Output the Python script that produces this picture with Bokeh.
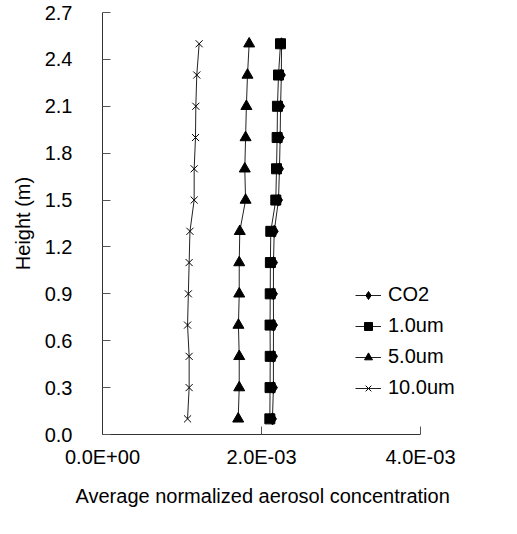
from bokeh.plotting import figure
from bokeh.models import FixedTicker, Range1d, Legend, LegendItem, Title
from bokeh.embed import file_html
from bokeh.resources import INLINE

heights = [0.1, 0.3, 0.5, 0.7, 0.9, 1.1, 1.3, 1.5, 1.7, 1.9, 2.1, 2.3, 2.5]
co2 = [0.002138, 0.00215, 0.00215, 0.002151, 0.00215, 0.002151, 0.00216,
       0.002214, 0.002226, 0.002235, 0.00224, 0.00225, 0.002252]
um1 = [0.002105, 0.002108, 0.00211, 0.002108, 0.00211, 0.002112, 0.002117,
       0.00218, 0.002189, 0.002197, 0.002201, 0.002214, 0.002239]
um5 = [0.001707, 0.00172, 0.00172, 0.00171, 0.00172, 0.00172, 0.001727,
       0.0018, 0.00179, 0.0018, 0.00181, 0.001824, 0.001845]
um10 = [0.00107, 0.00109, 0.00109, 0.00107, 0.00108, 0.00109, 0.0011,
        0.001153, 0.001153, 0.00117, 0.001174, 0.001186, 0.001216]

series_names = ["CO2", "1.0um", "5.0um", "10.0um"]
series_values = [co2, um1, um5, um10]
markers = ["diamond", "square", "triangle", "x"]
marker_sizes = [12, 10, 11, 10]

x_ticks = [0.0, 0.002, 0.004]
x_tick_labels = ["0.0E+00", "2.0E-03", "4.0E-03"]
y_ticks = [0.0, 0.3, 0.6, 0.9, 1.2, 1.5, 1.8, 2.1, 2.4, 2.7]
y_tick_labels = ["0.0", "0.3", "0.6", "0.9", "1.2", "1.5", "1.8", "2.1", "2.4", "2.7"]
x_title = "Average normalized aerosol concentration"
y_title = "Height (m)"

FONT = "Liberation Sans"

# frame spans page x 110..500; axis value 0.004 falls at page x ~428
p = figure(width=501, height=518, output_backend="svg", toolbar_location=None,
           x_range=Range1d(0, 0.004906), y_range=Range1d(0, 2.7),
           min_border_left=102, min_border_right=9, min_border_top=12,
           min_border_bottom=60)
p.outline_line_color = None
p.xgrid.visible = False
p.ygrid.visible = False
p.background_fill_color = "white"
p.border_fill_color = "white"

items = []
for name, vals, mk, sz in zip(series_names, series_values, markers, marker_sizes):
    lr = p.line(vals, heights, line_color="#222222", line_width=1)
    sr = p.scatter(vals, heights, marker=mk, size=sz, fill_color="black",
                   line_color="black", line_width=1)
    items.append(LegendItem(label=name, renderers=[lr, sr]))

legend = Legend(items=items, location=(253, 35), border_line_color=None,
                background_fill_alpha=0, padding=0, margin=0, spacing=8,
                glyph_width=26, glyph_height=20, label_height=20,
                label_standoff=7, label_text_font=FONT,
                label_text_font_size="20px", label_text_color="black")
p.add_layout(legend)

# x axis (line and ticks span only 0 .. 0.004)
xa = p.xaxis[0]
xa.bounds = (0.0, 0.004)
xa.ticker = FixedTicker(ticks=x_ticks)
xa.major_label_overrides = {t: l for t, l in zip(x_ticks, x_tick_labels)}
xa.minor_tick_line_color = None
xa.major_tick_in = 8
xa.major_tick_out = 0
xa.major_tick_line_color = "#555555"
xa.axis_line_color = "#333333"
xa.major_label_standoff = 11
xa.major_label_text_font = FONT
xa.major_label_text_font_size = "20px"
xa.major_label_text_color = "black"

# x title placed under the visible axis (0 .. 0.004), not the whole frame
xt = Title(text=x_title, align="left", offset=-27, standoff=24,
           text_font=FONT, text_font_size="20px", text_font_style="normal",
           text_color="black")
p.add_layout(xt, "below")

# y axis
ya = p.yaxis[0]
ya.ticker = FixedTicker(ticks=y_ticks)
ya.major_label_overrides = {t: l for t, l in zip(y_ticks, y_tick_labels)}
ya.minor_tick_line_color = None
ya.major_tick_in = 8
ya.major_tick_out = 0
ya.major_tick_line_color = "#555555"
ya.axis_line_color = "#333333"
ya.major_label_standoff = 30
ya.major_label_text_font = FONT
ya.major_label_text_font_size = "20px"
ya.major_label_text_color = "black"
ya.axis_label = y_title
ya.axis_label_text_font = FONT
ya.axis_label_text_font_size = "20px"
ya.axis_label_text_font_style = "normal"
ya.axis_label_text_color = "black"
ya.axis_label_standoff = 8

open("out.html", "w").write(file_html(p, INLINE))
